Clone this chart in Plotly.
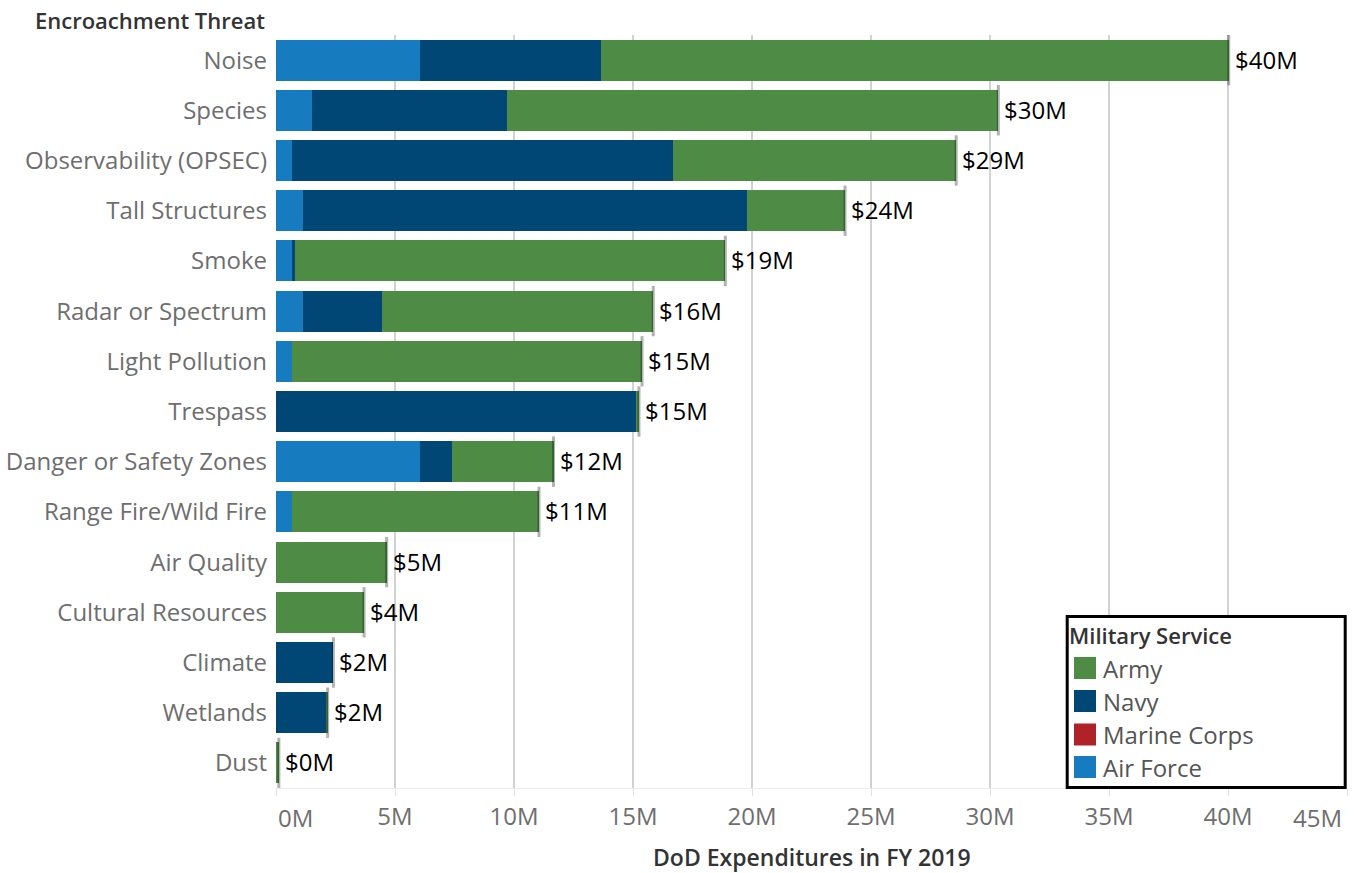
import plotly.graph_objects as go

# DoD encroachment-related expenditures, FY 2019 (millions of dollars)
threats = [
    "Noise", "Species", "Observability (OPSEC)", "Tall Structures", "Smoke",
    "Radar or Spectrum", "Light Pollution", "Trespass", "Danger or Safety Zones",
    "Range Fire/Wild Fire", "Air Quality", "Cultural Resources", "Climate",
    "Wetlands", "Dust",
]
air_force = [6.06, 1.51, 0.67, 1.14, 0.67, 1.14, 0.67, 0.0, 6.06, 0.67, 0.0, 0.0, 0.0, 0.0, 0.0]
marine_corps = [0.0, 0.0, 0.0, 0.0, 0.0, 0.0, 0.0, 0.0, 0.0, 0.0, 0.0, 0.0, 0.0, 0.0, 0.0]
navy = [7.61, 8.20, 16.03, 18.66, 0.13, 3.32, 0.0, 15.13, 1.34, 0.0, 0.0, 0.0, 2.41, 2.13, 0.0]
army = [26.36, 20.64, 11.88, 4.11, 18.08, 11.39, 14.71, 0.12, 4.26, 10.38, 4.65, 3.70, 0.0, 0.04, 0.12]

x_ticks = [0, 5, 10, 15, 20, 25, 30, 35, 40, 45]
x_tick_labels = ["0M", "5M", "10M", "15M", "20M", "25M", "30M", "35M", "40M", "45M"]

services = ["Army", "Navy", "Marine Corps", "Air Force"]
colors = {"Army": "#4e8b45", "Navy": "#004776", "Marine Corps": "#af2228", "Air Force": "#177bbf"}

FONT = "Open Sans"
W, H = 1354, 873
L, R, T, B = 276, 1347, 35, 788   # plot area in pixels


def px_x(x):
    return (x - L) / (R - L)


def px_y(y):
    return (B - y) / (B - T)


totals = [a + m + n + r for a, m, n, r in zip(air_force, marine_corps, navy, army)]
total_labels = [f"${round(t):.0f}M" for t in totals]

fig = go.Figure()

# stacked bars, Air Force nearest the axis
series = [("Air Force", air_force), ("Marine Corps", marine_corps), ("Navy", navy), ("Army", army)]
for name, vals in series:
    fig.add_trace(go.Bar(
        y=threats, x=vals, orientation="h", name=name,
        marker=dict(color=colors[name], line=dict(width=0)),
        showlegend=False, hoverinfo="x+y+name",
    ))

# reference tick at each bar total
fig.add_trace(go.Scatter(
    x=totals, y=threats, mode="markers",
    marker=dict(symbol="line-ns", size=36, color="rgba(0,0,0,0.3)",
                line=dict(color="rgba(0,0,0,0.3)", width=3)),
    showlegend=False, hoverinfo="skip", cliponaxis=False,
))

annotations = []
shapes = []

# total labels just right of each bar
for t, cat, lab in zip(totals, threats, total_labels):
    annotations.append(dict(x=t, y=cat, xref="x", yref="y", text=lab, showarrow=False,
                            xanchor="left", yanchor="middle", xshift=4, yshift=1,
                            font=dict(family=FONT, size=24, color="#000000")))

# edge tick labels are nudged inward so they stay within the axis span
annotations.append(dict(x=0, y=px_y(817), xref="x", yref="paper", text=x_tick_labels[0],
                        showarrow=False, xanchor="left", yanchor="middle", xshift=0,
                        font=dict(family=FONT, size=24, color="#6e6e6e")))
annotations.append(dict(x=45, y=px_y(817), xref="x", yref="paper", text=x_tick_labels[-1],
                        showarrow=False, xanchor="right", yanchor="middle", xshift=-3,
                        font=dict(family=FONT, size=24, color="#6e6e6e")))

# axis titles
annotations.append(dict(x=px_x(267), y=px_y(20), xref="paper", yref="paper",
                        text="Encroachment Threat", showarrow=False,
                        xanchor="right", yanchor="middle",
                        font=dict(family=FONT, size=22, color="#333333", weight=600)))
annotations.append(dict(x=0.5, y=px_y(857), xref="paper", yref="paper",
                        text="DoD Expenditures in FY 2019", showarrow=False,
                        xanchor="center", yanchor="middle",
                        font=dict(family=FONT, size=23, color="#333333", weight=600)))

# legend panel
shapes.append(dict(type="rect", xref="paper", yref="paper",
                   x0=px_x(1067.2), x1=px_x(1345.2), y0=px_y(787.5), y1=px_y(616.5),
                   fillcolor="white", line=dict(color="black", width=3), layer="above"))
annotations.append(dict(x=px_x(1067), y=px_y(635), xref="paper", yref="paper",
                        text="Military Service", showarrow=False,
                        xanchor="left", yanchor="middle",
                        font=dict(family=FONT, size=22, color="#333333", weight=600)))
row_y = [668, 701, 734.5, 767]
for name, yc in zip(services, row_y):
    shapes.append(dict(type="rect", xref="paper", yref="paper",
                       x0=px_x(1074), x1=px_x(1096), y0=px_y(yc + 11), y1=px_y(yc - 11),
                       fillcolor=colors[name], line=dict(width=0), layer="above"))
    annotations.append(dict(x=px_x(1101), y=px_y(yc), xref="paper", yref="paper",
                            text=name, showarrow=False, xanchor="left", yanchor="middle",
                            font=dict(family=FONT, size=24, color="#555555")))

fig.update_layout(
    width=W, height=H,
    margin=dict(l=L, r=W - R, t=T, b=H - B, pad=0),
    paper_bgcolor="white", plot_bgcolor="white",
    barmode="stack", bargap=0.18,
    font=dict(family=FONT),
    showlegend=False,
    annotations=annotations, shapes=shapes,
    xaxis=dict(
        range=[0, 45], tickvals=x_ticks,
        ticktext=[""] + x_tick_labels[1:-1] + [""],
        showgrid=True, gridcolor="#d2d2d2", gridwidth=2,
        zeroline=False,
        showline=True, linecolor="#ececec", linewidth=1,
        ticks="outside", ticklen=7, tickcolor="#e0e0e0", tickwidth=1,
        tickfont=dict(family=FONT, size=24, color="#6e6e6e"),
        ticklabelstandoff=0,
        fixedrange=True,
    ),
    yaxis=dict(
        categoryorder="array", categoryarray=threats,
        range=[len(threats) - 0.5, -0.5],
        showgrid=False, zeroline=False, showline=False,
        ticks="", ticklabelstandoff=8,
        tickfont=dict(family=FONT, size=24, color="#6e6e6e"),
        fixedrange=True,
    ),
)

fig.write_html("out.html")
